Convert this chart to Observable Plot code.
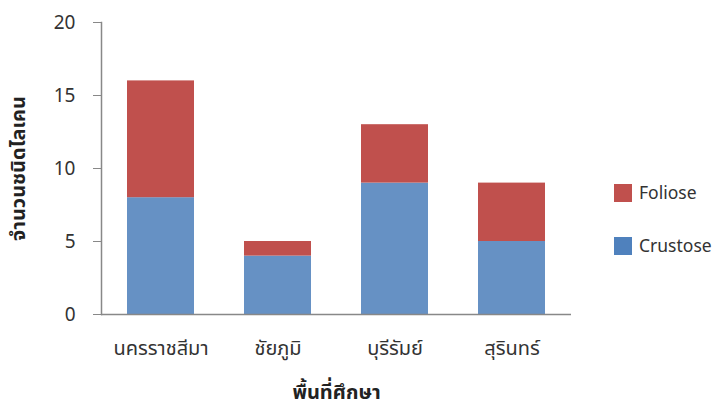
<!DOCTYPE html>
<html>
<head>
<meta charset="utf-8">
<script src="https://cdn.jsdelivr.net/npm/d3@7"></script>
<script src="https://cdn.jsdelivr.net/npm/@observablehq/plot@0.6"></script>
<style>
  html, body { margin: 0; padding: 0; background: #fff; }
  #wrap { position: relative; width: 716px; height: 407px; font-family: "Noto Sans Thai", "Noto Sans", "Open Sans", sans-serif; }
  #legend { position: absolute; left: 614px; top: 180px; font-size: 17.5px; color: #333; white-space: nowrap; }
  .item { display: flex; align-items: center; height: 26px; margin-bottom: 27px; }
  .sw { width: 18px; height: 18px; margin-right: 7px; flex: none; }
</style>
</head>
<body>
<div id="wrap"></div>
<script>
const regions = ["นครราชสีมา", "ชัยภูมิ", "บุรีรัมย์", "สุรินทร์"];
const crustose = [8, 4, 9, 5];
const foliose = [8, 1, 4, 4];
const seriesNames = ["Crustose", "Foliose"];
const seriesColors = ["#6691C4", "#C0504D"];
const legendColors = ["#4F81BD", "#C0504D"];
const yTicks = [0, 5, 10, 15, 20];
const yTitle = "จำนวนชนิดไลเคน";
const xTitle = "พื้นที่ศึกษา";

const data = [];
regions.forEach((r, i) => data.push({region: r, series: seriesNames[0], value: crustose[i]}));
regions.forEach((r, i) => data.push({region: r, series: seriesNames[1], value: foliose[i]}));

const chart = Plot.plot({
  width: 716,
  height: 407,
  marginLeft: 101,
  marginRight: 145,
  marginTop: 22,
  marginBottom: 93,
  style: {fontFamily: '"Noto Sans Thai", "Noto Sans", "Open Sans", sans-serif', fontSize: "19px", color: "#333", background: "#fff"},
  x: {domain: regions, paddingInner: 0.43, paddingOuter: 0.215, label: null},
  y: {domain: [0, 20], label: null},
  color: {domain: seriesNames, range: seriesColors},
  marks: [
    Plot.barY(data, {x: "region", y: "value", fill: "series"}),
    Plot.axisY({ticks: yTicks, tickSize: 8, tickPadding: 18, stroke: "#888", fontSize: 19, label: null}),
    Plot.axisX({tickSize: 0, tickPadding: 26, fontSize: 20, label: null}),
    Plot.ruleY([0], {stroke: "#888", strokeWidth: 1.5}),
    Plot.frame({anchor: "left", stroke: "#888", strokeWidth: 1.5}),
    Plot.text([yTitle], {frameAnchor: "left", textAnchor: "middle", dx: -83, rotate: -90, fontWeight: "bold", fontSize: 20, fill: "#222"}),
    Plot.text([xTitle], {frameAnchor: "bottom", textAnchor: "middle", dy: 84, fontWeight: "bold", fontSize: 20, fill: "#222"})
  ]
});

const wrap = document.getElementById("wrap");
wrap.appendChild(chart);
const legend = document.createElement("div");
legend.id = "legend";
[1, 0].forEach(i => {
  const it = document.createElement("div");
  it.className = "item";
  const sw = document.createElement("div");
  sw.className = "sw";
  sw.style.background = legendColors[i];
  const tx = document.createElement("span");
  tx.textContent = seriesNames[i];
  it.appendChild(sw); it.appendChild(tx);
  legend.appendChild(it);
});
wrap.appendChild(legend);
</script>
</body>
</html>
